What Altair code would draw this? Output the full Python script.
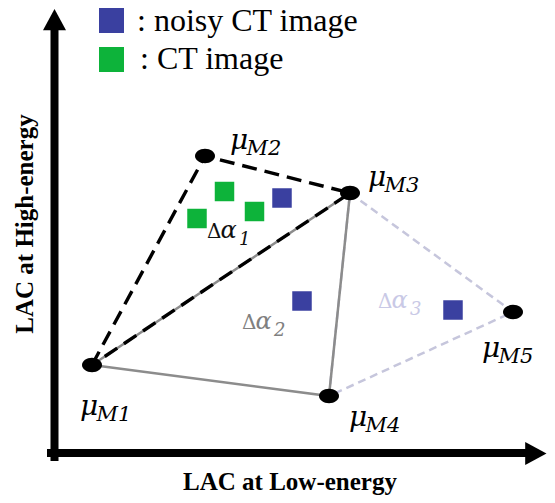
import altair as alt
import pandas as pd

# ---- data (page pixel coordinates) ----
vertex_names = ["M1", "M2", "M3", "M4", "M5"]
vertex_x = [92, 205, 350, 329, 513]
vertex_y = [365, 156, 193, 396, 312]

mu_x = [80, 230, 368, 349, 482]
mu_y = [415, 149, 186, 426, 357]

tri_black = ["M1", "M2", "M3", "M1"]
tri_gray = ["M1", "M3", "M4", "M1"]
tri_lav = ["M3", "M5", "M4", "M3"]

ct_x = [224.5, 197, 254.5]
ct_y = [191.5, 218.5, 211.5]
noisy_x = [282, 302, 453]
noisy_y = [198, 301, 310]

delta_sub = ["1", "2", "3"]
delta_x = [207, 242, 378]
delta_y = [238, 329, 308]
delta_color = ["#111111", "#808080", "#c9c9e6"]

legend_text = [": noisy CT image", ": CT image"]
legend_color = ["#3a40a0", "#0db33a"]
legend_x = [111.5, 111.5]
legend_y = [20.5, 59.5]
legend_text_x = [137, 140]
legend_text_y = [31, 69]

axis_x1 = [51, 54.5]
axis_x2 = [530, 54.5]
axis_y1 = [453, 457]
axis_y2 = [453, 26]
head_x = [535, 54.5]
head_y = [453.5, 20.5]
head_shape = ["M1,0L-0.85,1L-0.85,-1Z", "M0,-1L1,0.85L-1,0.85Z"]

x_title = "LAC at Low-energy"
y_title = "LAC at High-energy"
x_title_pos = (290, 490)
y_title_pos = (33, 224)

# ---- chart ----
W, H = 539, 487
xs = alt.Scale(domain=[8, 8 + W], nice=False, zero=False)
ys = alt.Scale(domain=[8, 8 + H], reverse=True, nice=False, zero=False)
X = lambda f="x": alt.X(f + ":Q", scale=xs, axis=None)
Y = lambda f="y": alt.Y(f + ":Q", scale=ys, axis=None)

vx = dict(zip(vertex_names, vertex_x))
vy = dict(zip(vertex_names, vertex_y))


def tri_df(names):
    return pd.DataFrame({"x": [vx[n] for n in names], "y": [vy[n] for n in names],
                         "o": list(range(len(names)))})


lav = alt.Chart(tri_df(tri_lav)).mark_line(
    color="#c6c6dc", strokeWidth=2.5, strokeDash=[8, 5]).encode(x=X(), y=Y(), order="o:Q")
gray = alt.Chart(tri_df(tri_gray)).mark_line(
    color="#8c8c8c", strokeWidth=2.5).encode(x=X(), y=Y(), order="o:Q")
black = alt.Chart(tri_df(tri_black)).mark_line(
    color="#000000", strokeWidth=3.4, strokeDash=[15, 8]).encode(x=X(), y=Y(), order="o:Q")

vdf = pd.DataFrame({"x": vertex_x, "y": vertex_y, "n": vertex_names,
                    "lx": mu_x, "ly": mu_y})
dots = alt.Chart(vdf).mark_point(
    shape="M-1,0A1,0.72 0 1,0 1,0A1,0.72 0 1,0 -1,0Z", size=400, filled=True,
    color="#000000", opacity=1, strokeWidth=0).encode(x=X(), y=Y())

mu = alt.Chart(vdf).mark_text(
    text="\u03bc", align="left", baseline="alphabetic", font="DejaVu Serif",
    fontStyle="italic", fontSize=28, color="#000000").encode(x=X("lx"), y=Y("ly"))
mu_sub = alt.Chart(vdf).mark_text(
    align="left", baseline="alphabetic", font="DejaVu Serif", fontStyle="italic",
    fontSize=21, dx=16.5, dy=6, color="#000000").encode(x=X("lx"), y=Y("ly"), text="n:N")

sq_df = pd.DataFrame({"x": ct_x + noisy_x, "y": ct_y + noisy_y,
                      "c": [legend_color[1]] * 3 + [legend_color[0]] * 3})
squares = alt.Chart(sq_df).mark_square(size=380, opacity=1, strokeWidth=0).encode(
    x=X(), y=Y(), color=alt.Color("c:N", scale=None))

ddf = pd.DataFrame({"x": delta_x, "y": delta_y, "s": delta_sub, "c": delta_color})
d_delta = alt.Chart(ddf).mark_text(
    text="\u0394", align="left", baseline="alphabetic", font="DejaVu Serif",
    fontSize=20).encode(x=X(), y=Y(), color=alt.Color("c:N", scale=None))
d_alpha = alt.Chart(ddf).mark_text(
    text="\u03b1", align="left", baseline="alphabetic", font="DejaVu Serif",
    fontStyle="italic", fontSize=24, dx=13.5).encode(x=X(), y=Y(), color=alt.Color("c:N", scale=None))
d_sub = alt.Chart(ddf).mark_text(
    align="left", baseline="alphabetic", font="DejaVu Serif", fontStyle="italic",
    fontSize=18, dx=32, dy=7).encode(x=X(), y=Y(), text="s:N", color=alt.Color("c:N", scale=None))

ldf = pd.DataFrame({"x": legend_x, "y": legend_y, "c": legend_color,
                    "tx": legend_text_x, "ty": legend_text_y, "t": legend_text})
leg_sq = alt.Chart(ldf).mark_square(size=625, opacity=1, strokeWidth=0).encode(
    x=X(), y=Y(), color=alt.Color("c:N", scale=None))
leg_txt = alt.Chart(ldf).mark_text(
    align="left", baseline="alphabetic", font="Liberation Serif", fontSize=32,
    color="#000000").encode(x=X("tx"), y=Y("ty"), text="t:N")

adf = pd.DataFrame({"x": axis_x1, "x2": axis_x2, "y": axis_y1, "y2": axis_y2})
axes = alt.Chart(adf).mark_rule(color="#000000", strokeWidth=8, strokeCap="square").encode(
    x=X(), x2="x2:Q", y=Y(), y2="y2:Q")
hdf = pd.DataFrame({"x": head_x, "y": head_y, "s": head_shape})
heads = alt.Chart(hdf).mark_point(size=530, filled=True, opacity=1, color="#000000",
                                  strokeWidth=0).encode(
    x=X(), y=Y(), shape=alt.Shape("s:N", scale=None))

tdf = pd.DataFrame({"x": [x_title_pos[0], y_title_pos[0]], "y": [x_title_pos[1], y_title_pos[1]],
                    "t": [x_title, y_title], "a": [0, 270]})
titles = alt.Chart(tdf).mark_text(
    align="center", baseline="alphabetic", font="Liberation Serif", fontWeight="bold",
    fontSize=25, color="#000000").encode(x=X(), y=Y(), text="t:N",
                                          angle=alt.Angle("a:Q", scale=None))

chart = alt.layer(
    lav, gray, black, squares, dots, mu, mu_sub, d_delta, d_alpha, d_sub,
    leg_sq, leg_txt, axes, heads, titles
).properties(
    width=W, height=H, autosize=alt.AutoSizeParams(type="none"), padding=0,
    background="#ffffff"
).configure_view(stroke=None)

chart.save("out.html", embed_options={"renderer": "svg", "actions": False})
